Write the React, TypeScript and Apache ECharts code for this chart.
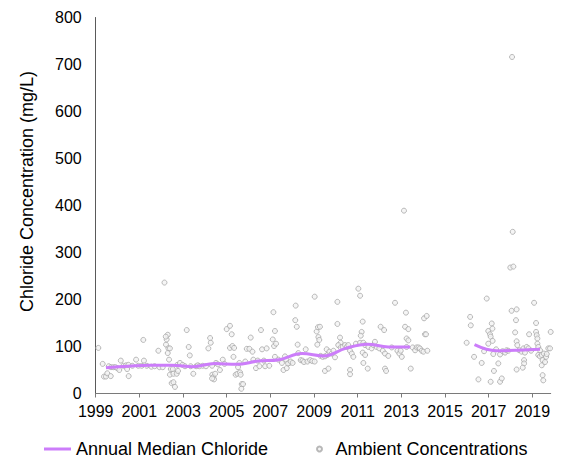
import React, { useEffect, useRef } from "react";
import * as echarts from "echarts";

const yAxisTitle = "Chloride Concentration (mg/L)";
const lineName = "Annual Median Chloride";
const scatterName = "Ambient Concentrations";
const xTickYears = [1999, 2001, 2003, 2005, 2007, 2009, 2011, 2013, 2015, 2017, 2019];

const medianEarly: [number, number][] = [
  [1999.47, 55], [2000.5, 58], [2001.5, 60], [2002.5, 60], [2003.45, 57], [2004.45, 64],
  [2005.45, 62], [2006.45, 69], [2007.4, 72], [2008.45, 85], [2009.45, 80], [2010.45, 96],
  [2011.45, 105], [2012.4, 99], [2013.4, 99],
];
const medianLate: [number, number][] = [
  [2016.35, 104], [2017.35, 91], [2018.35, 92], [2019.35, 94],
];

const ambient1999to2002: [number, number][] = [
  [1999.12, 97], [1999.32, 63], [1999.38, 36], [1999.47, 36], [1999.53, 43], [1999.69, 37],
  [1999.6, 58], [1999.7, 56], [1999.81, 56], [1999.9, 56], [1999.99, 54], [2000.15, 70],
  [2000.08, 50], [2000.27, 59], [2000.39, 60], [2000.44, 52], [2000.51, 37], [2000.5, 61],
  [2000.68, 59], [2000.85, 72], [2000.95, 59], [2001.11, 59], [2001.21, 70], [2001.18, 114],
  [2001.34, 59], [2001.55, 57], [2001.7, 58], [2001.87, 91], [2001.92, 56], [2002.07, 56],
  [2002.15, 236], [2002.22, 104], [2002.25, 115], [2002.3, 125], [2002.21, 121], [2002.33, 96],
  [2002.4, 96], [2002.3, 86], [2002.36, 72], [2002.44, 52], [2002.53, 52], [2002.4, 40],
  [2002.56, 42], [2002.48, 22], [2002.56, 24], [2002.63, 14], [2002.71, 42], [2002.77, 48],
  [2002.74, 61], [2002.86, 65], [2002.98, 61],
];

const ambient2003to2008: [number, number][] = [
  [2003.09, 58], [2003.17, 135], [2003.26, 99], [2003.31, 81], [2003.35, 58], [2003.47, 42],
  [2003.6, 58], [2003.68, 60], [2003.75, 58], [2003.9, 59], [2004.05, 58], [2004.16, 96],
  [2004.24, 118], [2004.27, 108], [2004.33, 59], [2004.34, 40], [2004.39, 35], [2004.42, 30],
  [2004.33, 32], [2004.47, 42], [2004.51, 65], [2004.6, 62], [2004.69, 50], [2004.82, 72],
  [2004.9, 63], [2005.0, 137], [2005.15, 144], [2005.23, 126], [2005.15, 97], [2005.26, 101],
  [2005.34, 97], [2005.31, 78], [2005.41, 40], [2005.49, 42], [2005.52, 56], [2005.58, 65],
  [2005.61, 45], [2005.64, 40], [2005.69, 20], [2005.75, 20], [2005.67, 10], [2005.85, 68],
  [2005.92, 95], [2006.04, 95], [2006.1, 119], [2006.18, 89], [2006.22, 72], [2006.34, 54],
  [2006.42, 70], [2006.5, 58], [2006.57, 135], [2006.62, 94], [2006.7, 70], [2006.76, 58],
  [2006.83, 96], [2006.95, 59], [2007.14, 173], [2007.21, 133], [2007.11, 115], [2007.17, 101],
  [2007.26, 106], [2007.21, 78], [2007.37, 72], [2007.53, 65], [2007.6, 50], [2007.67, 79],
  [2007.72, 72], [2007.75, 54], [2007.87, 65], [2007.81, 64], [2007.93, 68], [2008.02, 65],
  [2008.16, 187], [2008.14, 156], [2008.21, 142], [2008.25, 104], [2008.28, 86], [2008.39, 71],
  [2008.47, 70], [2008.54, 67], [2008.62, 94], [2008.7, 68], [2008.82, 71], [2008.92, 69],
];

const ambient2009to2014: [number, number][] = [
  [2009.03, 68], [2009.03, 206], [2009.12, 132], [2009.18, 141], [2009.2, 120], [2009.24, 114],
  [2009.15, 104], [2009.3, 80], [2009.27, 142], [2009.4, 78], [2009.5, 79], [2009.61, 82],
  [2009.58, 94], [2009.7, 89], [2009.81, 85], [2009.89, 91], [2009.96, 77], [2009.5, 48],
  [2009.66, 53], [2010.07, 195], [2010.07, 148], [2010.19, 119], [2010.22, 108], [2010.11, 103],
  [2010.22, 98], [2010.31, 99], [2010.42, 103], [2010.5, 99], [2010.57, 103], [2010.65, 91],
  [2010.73, 85], [2010.8, 78], [2010.65, 50], [2010.65, 41], [2010.92, 106], [2011.03, 223],
  [2011.11, 208], [2011.23, 153], [2011.18, 131], [2011.14, 123], [2011.11, 108], [2011.26, 108],
  [2011.34, 103], [2011.23, 87], [2011.34, 82], [2011.26, 65], [2011.46, 53], [2011.49, 99],
  [2011.64, 96], [2011.72, 103], [2011.79, 110], [2011.87, 99], [2011.99, 96], [2012.05, 142],
  [2012.21, 135], [2012.15, 91], [2012.25, 85], [2012.4, 80], [2012.25, 53], [2012.3, 48],
  [2012.56, 98], [2012.71, 193], [2012.82, 91], [2012.91, 85], [2012.97, 91], [2013.02, 78],
  [2013.12, 389], [2013.17, 142], [2013.21, 172], [2013.32, 137], [2013.24, 117], [2013.32, 113],
  [2013.24, 99], [2013.43, 53], [2013.52, 98], [2013.63, 92], [2013.7, 98], [2013.78, 98],
  [2013.85, 96], [2013.93, 91], [2014.04, 160], [2014.16, 165], [2014.08, 126], [2014.13, 126],
  [2014.01, 89], [2014.19, 91],
];

const ambient2016to2019: [number, number][] = [
  [2015.99, 108], [2016.15, 163], [2016.18, 145], [2016.33, 78], [2016.53, 30], [2016.68, 65],
  [2016.79, 90], [2016.91, 202], [2016.98, 106], [2016.98, 133], [2017.06, 126], [2017.09, 121],
  [2017.14, 149], [2017.17, 138], [2017.18, 112], [2017.21, 84], [2017.24, 48], [2017.09, 25],
  [2017.34, 94], [2017.44, 64], [2017.52, 83], [2017.52, 25], [2017.6, 32], [2017.64, 90],
  [2017.75, 87], [2017.82, 92], [2017.9, 91], [2017.99, 268], [2018.13, 270], [2018.1, 344],
  [2018.07, 716], [2018.05, 176], [2018.28, 179], [2018.21, 130], [2018.25, 156], [2018.28, 111],
  [2018.31, 103], [2018.28, 51], [2018.4, 92], [2018.51, 89], [2018.59, 96], [2018.62, 71],
  [2018.62, 64], [2018.56, 55], [2018.66, 87], [2018.74, 99], [2018.82, 96], [2018.85, 126],
  [2018.94, 91], [2019.08, 193], [2019.17, 150], [2019.17, 131], [2019.2, 124], [2019.23, 117],
  [2019.23, 106], [2019.27, 99], [2019.35, 92], [2019.27, 82], [2019.35, 79], [2019.43, 82],
  [2019.43, 60], [2019.47, 71], [2019.53, 85], [2019.58, 67], [2019.63, 78], [2019.66, 84],
  [2019.47, 39], [2019.5, 28], [2019.73, 96], [2019.81, 96], [2019.84, 131],
];

const FONT = "'Liberation Sans', Arial, sans-serif";

export default function App() {
  const ref = useRef<HTMLDivElement>(null);
  useEffect(() => {
    if (!ref.current) return;
    const chart = echarts.init(ref.current, null, { renderer: "svg" });
    const ambient = [...ambient1999to2002, ...ambient2003to2008, ...ambient2009to2014, ...ambient2016to2019];
    const lineStyle = { color: "#CC7DFA", width: 3 };
    chart.setOption({
      animation: false,
      textStyle: { fontFamily: FONT },
      grid: { left: 95.7, right: 14.3, top: 17.5, bottom: 68.5 },
      xAxis: {
        type: "value",
        min: 1999,
        max: 2019.84,
        splitLine: { show: false },
        axisLine: { lineStyle: { color: "#7a7a7a", width: 1 } },
        axisTick: { show: true, length: 4, customValues: xTickYears, lineStyle: { color: "#7a7a7a" } },
        axisLabel: {
          customValues: xTickYears,
          color: "#000",
          fontSize: 16,
          fontFamily: FONT,
          margin: 10,
          formatter: (v: number) => String(Math.round(v)),
        },
      },
      yAxis: {
        type: "value",
        min: 0,
        max: 800,
        interval: 100,
        splitLine: { show: false },
        axisLine: { show: true, lineStyle: { color: "#5a5a5a", width: 1 } },
        axisTick: { show: false },
        axisLabel: { color: "#000", fontSize: 16, fontFamily: FONT, margin: 14 },
      },
      legend: [
        {
          data: [{ name: lineName, icon: "rect" }],
          left: 44,
          top: 440,
          padding: 0,
          itemWidth: 27,
          itemHeight: 3,
          textStyle: { color: "#000", fontSize: 18, fontFamily: FONT },
        },
        {
          data: [scatterName],
          left: 316,
          top: 440,
          padding: 0,
          itemWidth: 22,
          itemHeight: 5,
          textStyle: { color: "#000", fontSize: 18, fontFamily: FONT },
        },
      ],
      graphic: [
        {
          type: "text",
          x: 27,
          y: 191.5,
          rotation: Math.PI / 2,
          style: {
            text: yAxisTitle,
            fontSize: 18,
            fontFamily: FONT,
            fill: "#000",
            align: "center",
            verticalAlign: "middle",
          },
        },
      ],
      series: [
        {
          name: scatterName,
          type: "scatter",
          data: ambient,
          symbol: "circle",
          symbolSize: 5,
          itemStyle: { color: "#f2f2f2", borderColor: "#a8a8a8", borderWidth: 1 },
          z: 2,
        },
        {
          name: lineName,
          type: "line",
          data: medianEarly,
          symbol: "none",
          smooth: 0.4,
          lineStyle,
          itemStyle: { color: lineStyle.color },
          z: 3,
        },
        {
          name: lineName,
          type: "line",
          data: medianLate,
          symbol: "none",
          smooth: 0.4,
          lineStyle,
          itemStyle: { color: lineStyle.color },
          z: 3,
        },
      ],
    });
    return () => chart.dispose();
  }, []);
  return <div ref={ref} style={{ width: 565, height: 462, position: "absolute", left: 0, top: 0 }} />;
}
